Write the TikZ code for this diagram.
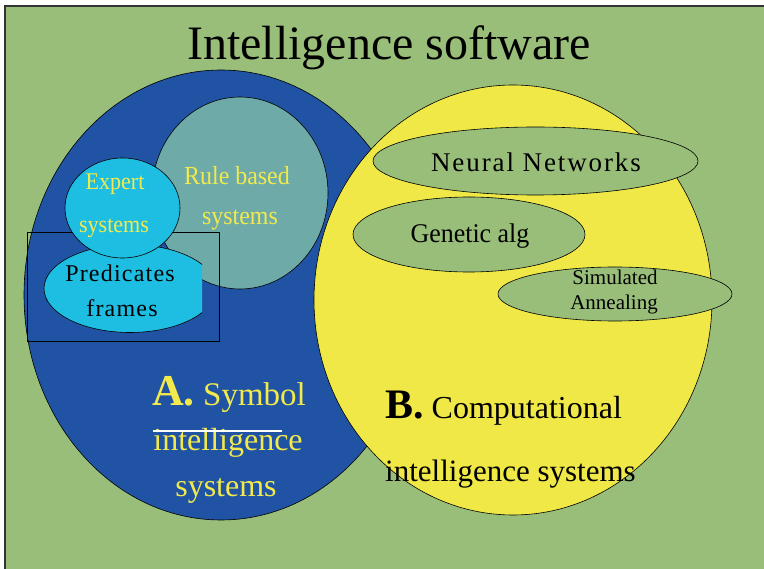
\documentclass[tikz,border=0pt]{standalone}
\usepackage{fontspec}
\setmainfont{Liberation Serif}
\usetikzlibrary{shapes.geometric}
\definecolor{bg}{RGB}{152,190,121}
\definecolor{blueA}{RGB}{33,83,165}
\definecolor{tealR}{RGB}{110,170,168}
\definecolor{cyanE}{RGB}{30,190,226}
\definecolor{yelB}{RGB}{240,232,70}
\definecolor{txtY}{RGB}{242,234,76}
\begin{document}
\begin{tikzpicture}[x=1pt,y=-1pt,
  blob/.style={ellipse, draw=black, line width=0.6pt, inner sep=0pt},
  lbl/.style={inner sep=0pt, anchor=base},
  lblw/.style={inner sep=0pt, anchor=base west}]
\useasboundingbox (0,0) rectangle (764,569);
\fill[white] (0,0) rectangle (764,569);
\fill[bg] (5,6) rectangle (764,569);
\draw[black!80, line width=1.5pt] (5,569) -- (5,6) -- (764,6);

% title
\node[lbl, font=\fontsize{48}{52}\selectfont] (title) at (389,60) {Intelligence software};

% A region
\node[blob, fill=blueA, minimum width=394pt, minimum height=450pt] (A) at (221,295) {};
\node[blob, fill=tealR, minimum width=176pt, minimum height=192pt] (rule) at (240,193) {};
\node[draw=black, line width=0.8pt, inner sep=0pt, minimum width=192pt, minimum height=109pt, anchor=north west] (box) at (27,232) {};
\begin{scope}
\clip (0,0) rectangle (202,569);
\node[blob, fill=cyanE, minimum width=172pt, minimum height=88pt] (pred) at (130,288.5) {};
\end{scope}
\node[blob, fill=cyanE, minimum width=115pt, minimum height=100pt] (expert) at (122.5,208) {};

% B region
\node[blob, fill=yelB, minimum width=398pt, minimum height=430pt] (B) at (513,300) {};
\node[blob, fill=bg, minimum width=325pt, minimum height=68pt] (nn) at (535.5,161) {};
\node[blob, fill=bg, minimum width=232pt, minimum height=75pt] (ga) at (469,234.5) {};
\node[blob, fill=bg, minimum width=234pt, minimum height=54pt] (sa) at (615,294) {};

% labels inside A
\node[lbl, text=txtY, font=\fontsize{26}{28}\selectfont\addfontfeatures{FakeStretch=0.92}] (rule1) at (237,185) {Rule based};
\node[lbl, text=txtY, font=\fontsize{26}{28}\selectfont\addfontfeatures{FakeStretch=0.92}] (rule2) at (240,225) {systems};
\node[lbl, text=txtY, font=\fontsize{24}{26}\selectfont\addfontfeatures{FakeStretch=0.92}] (exp1) at (115,190) {Expert};
\node[lbl, text=txtY, font=\fontsize{24}{26}\selectfont\addfontfeatures{FakeStretch=0.92}] (exp2) at (114,233) {systems};
\node[lbl, font=\fontsize{24}{26}\selectfont\addfontfeatures{LetterSpace=5}] (pred1) at (120,282) {Predicates};
\node[lbl, font=\fontsize{24}{26}\selectfont\addfontfeatures{LetterSpace=5}] (pred2) at (122,317) {frames};

% labels inside B
\node[lbl, font=\fontsize{27}{29}\selectfont\addfontfeatures{LetterSpace=7}] (nnt) at (536,172) {Neural Networks};
\node[lbl, font=\fontsize{27}{29}\selectfont\addfontfeatures{FakeStretch=0.96}] (gat) at (470,243) {Genetic alg};
\node[lbl, font=\fontsize{21}{23}\selectfont] (sa1) at (615,285) {Simulated};
\node[lbl, font=\fontsize{21}{23}\selectfont] (sa2) at (614,310) {Annealing};

% big labels
\node[lblw, text=txtY, font=\fontsize{33}{35}\selectfont] (Aa) at (152,406) {{\fontsize{44}{46}\selectfont\bfseries A.} Symbol};
\node[lbl, text=txtY, font=\fontsize{32}{34}\selectfont] (Ab) at (228,451) {intelligence};
\node[lbl, text=txtY, font=\fontsize{32}{34}\selectfont] (Ac) at (226,497) {systems};
\coordinate (ul1) at (153,431);
\coordinate (ul2) at (282,431);
\draw[white, line width=2pt] (ul1) -- (ul2);
\node[lblw, font=\fontsize{32}{34}\selectfont] (Ba) at (385,419) {{\fontsize{42}{44}\selectfont\bfseries B.} Computational};
\node[lblw, font=\fontsize{31}{33}\selectfont] (Bb) at (385,482) {intelligence systems};
\end{tikzpicture}
\end{document}
